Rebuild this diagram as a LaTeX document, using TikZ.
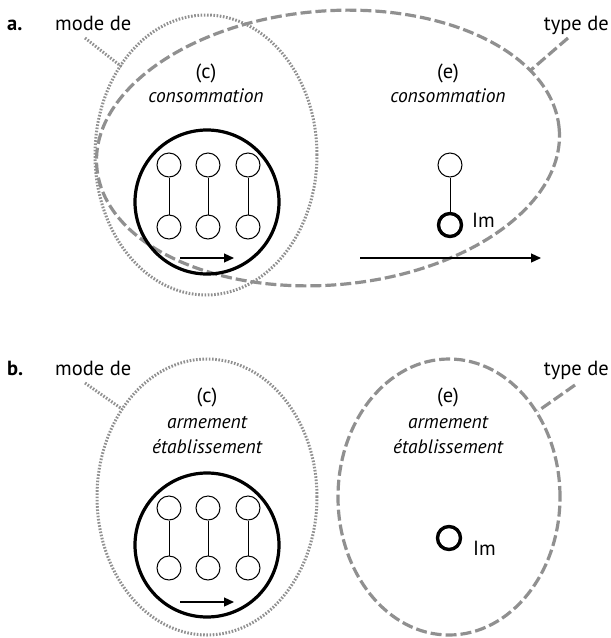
\documentclass[tikz,border=0pt]{standalone}
\usepackage{fontspec}
\setmainfont{PT Sans}
\usetikzlibrary{arrows.meta,shapes.geometric}
\definecolor{lgray}{HTML}{909090}
\begin{document}
\begin{tikzpicture}[x=1pt,y=-1pt,
  txt/.style={font=\fontsize{20.5}{24}\selectfont, inner sep=0pt, anchor=base},
  itxt/.style={txt, font=\fontsize{19.5}{23}\selectfont\itshape},
  dottedline/.style={draw=lgray, line width=3pt, dash pattern=on 1.6pt off 1.6pt},
  dashedline/.style={draw=lgray, line width=3.2pt, dash pattern=on 11pt off 4pt},
  smallc/.style={circle, draw, line width=1pt, minimum size=24pt, inner sep=0pt},
  thickc/.style={circle, draw, line width=3.4pt, minimum size=23pt, inner sep=0pt},
  bigc/.style={circle, draw, line width=3.2pt, minimum size=144pt, inner sep=0pt},
  link/.style={draw, line width=1pt},
  arr/.style={draw, line width=1.2pt, -{Triangle[length=10pt,width=9pt]}},
  ell/.style={ellipse, inner sep=0pt, fill=none}
]
\useasboundingbox (0,0) rectangle (611,638);

% ===== panel a =====
\node[txt, anchor=base west, font=\fontsize{20.5}{24}\selectfont\bfseries] (la) at (7,30) {a.};
\node[txt, anchor=base west] (modea) at (55,30) {mode de};
\node[txt, anchor=base east] (typea) at (609,30) {type de};

\node[ell, dottedline, minimum width=222pt, minimum height=280pt] (ca) at (206,155) {};
\node[ell, dashedline, rotate=4.7, minimum width=464pt, minimum height=274pt] (ea) at (328,148) {};

\coordinate (ma1) at (85,38);
\coordinate (ma2) at (122,67);
\draw[dottedline] (ma1) -- (ma2);
\coordinate (ta1) at (568,38);
\coordinate (ta2) at (531,70);
\draw[dashedline] (ta1) -- (ta2);

\node[txt] (pca) at (206,78) {(c)};
\node[itxt] (tca) at (206,102) {consommation};
\node[txt] (pea) at (448,78) {(e)};
\node[itxt] (tea) at (448,102) {consommation};

\node[bigc] (bga) at (207,202) {};
\node[smallc] (a1t) at (169,165) {};
\node[smallc] (a2t) at (208,165) {};
\node[smallc] (a3t) at (248,165) {};
\node[smallc] (a1b) at (169,227) {};
\node[smallc] (a2b) at (208,227) {};
\node[smallc] (a3b) at (248,227) {};
\draw[link] (a1t) -- (a1b);
\draw[link] (a2t) -- (a2b);
\draw[link] (a3t) -- (a3b);
\coordinate (aas) at (180,258);
\coordinate (aae) at (234,258);
\draw[arr] (aas) -- (aae);

\node[smallc] (eat) at (450,165) {};
\node[thickc] (eab) at (450,225) {};
\draw[link] (eat) -- (eab);
\node[txt, anchor=base west] (ima) at (472,227) {Im};
\coordinate (als) at (360,258);
\coordinate (ale) at (541,258);
\draw[arr] (als) -- (ale);

% ===== panel b =====
\node[txt, anchor=base west, font=\fontsize{20.5}{24}\selectfont\bfseries] (lb) at (7,375) {b.};
\node[txt, anchor=base west] (modeb) at (55,375) {mode de};
\node[txt, anchor=base east] (typeb) at (609,375) {type de};

\node[ell, dottedline, minimum width=220pt, minimum height=276pt] (cb) at (207,497) {};
\node[ell, dashedline, minimum width=222pt, minimum height=276pt] (eb) at (449,497) {};

\coordinate (mb1) at (85,383);
\coordinate (mb2) at (122,409);
\draw[dottedline] (mb1) -- (mb2);
\coordinate (tb1) at (575,385);
\coordinate (tb2) at (538,411);
\draw[dashedline] (tb1) -- (tb2);

\node[txt] (pcb) at (207,402) {(c)};
\node[itxt] (tcb1) at (207,428) {armement};
\node[itxt] (tcb2) at (207,453) {établissement};
\node[txt] (peb) at (448,402) {(e)};
\node[itxt] (teb1) at (448,428) {armement};
\node[itxt] (teb2) at (448,453) {établissement};

\node[bigc] (bgb) at (207,545) {};
\node[smallc] (b1t) at (169,508) {};
\node[smallc] (b2t) at (208,508) {};
\node[smallc] (b3t) at (248,508) {};
\node[smallc] (b1b) at (169,568) {};
\node[smallc] (b2b) at (208,568) {};
\node[smallc] (b3b) at (248,568) {};
\draw[link] (b1t) -- (b1b);
\draw[link] (b2t) -- (b2b);
\draw[link] (b3t) -- (b3b);
\coordinate (bas) at (180,602);
\coordinate (bae) at (234,602);
\draw[arr] (bas) -- (bae);

\node[thickc] (ebc) at (449,538) {};
\node[txt, anchor=base west] (imb) at (473,555) {Im};
\end{tikzpicture}
\end{document}
